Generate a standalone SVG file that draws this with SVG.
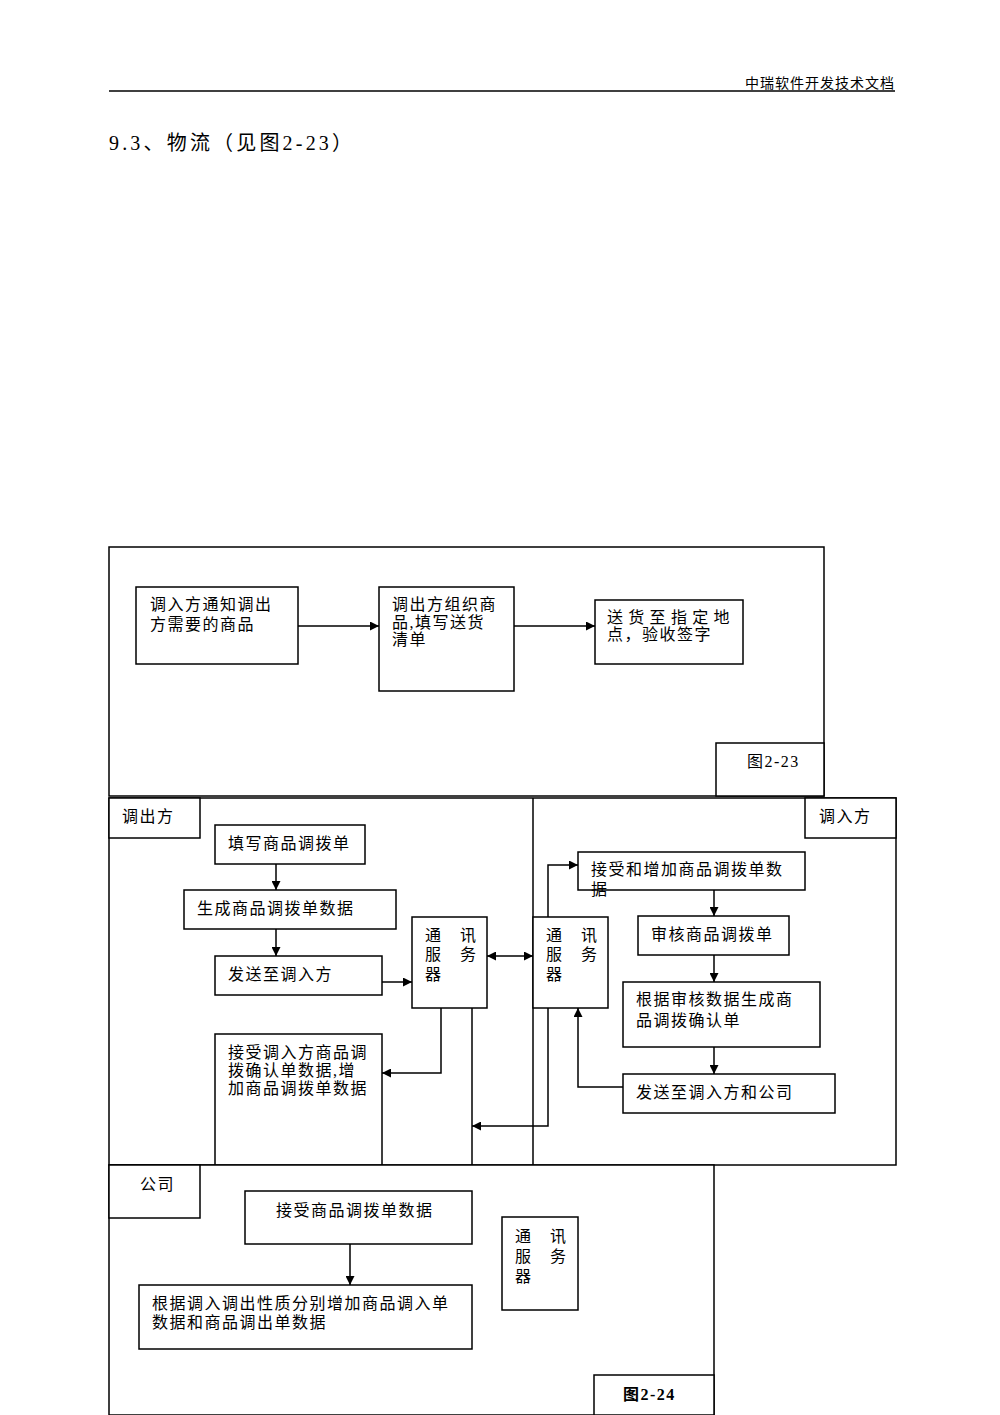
<svg xmlns="http://www.w3.org/2000/svg" width="1000" height="1415" viewBox="0 0 1000 1415">
<style>
.b{fill:#fff;stroke:#000;stroke-width:1.5}
.l{fill:none;stroke:#000;stroke-width:1.5}
text{font-family:"Liberation Serif","Noto Sans CJK SC",serif;font-size:16px;fill:#000;letter-spacing:1.5px}
</style>
<defs><marker id="a" viewBox="0 0 10 10" refX="10" refY="5" markerWidth="9" markerHeight="9" markerUnits="userSpaceOnUse" orient="auto-start-reverse"><path d="M0,0L10,5L0,10z"/></marker></defs>
<rect width="1000" height="1415" fill="#fff"/>
<text x="895" y="88" text-anchor="end" style="font-size:14px;letter-spacing:1px">中瑞软件开发技术文档</text>
<line x1="109" y1="91" x2="895" y2="91" stroke="#000" stroke-width="1.5"/>
<text x="109" y="150" style="font-size:20px;letter-spacing:0" textLength="243">9.3、物流（见图2-23）</text>
<g id="fig23"><rect class="b" x="109" y="547" width="715" height="249"/></g>
<g id="n1"><rect class="b" x="136" y="587" width="162" height="77"/><text x="150" y="610">调入方通知调出</text><text x="150" y="630">方需要的商品</text></g>
<g id="n2"><rect class="b" x="379" y="587" width="135" height="104"/><text x="392" y="610">调出方组织商</text><text x="392" y="628">品,填写送货</text><text x="392" y="645">清单</text></g>
<g id="n3"><rect class="b" x="595" y="600" width="148" height="64"/><text x="607" y="623" textLength="124">送货至指定地</text><text x="607" y="640">点，验收签字</text></g>
<g id="cap23"><rect class="b" x="716" y="743" width="108" height="53"/><text x="747" y="767">图2-23</text></g>
<g id="fig24"><rect class="b" x="109" y="798" width="787" height="367"/><line class="l" x1="533" y1="798" x2="533" y2="1165"/><line class="l" x1="472" y1="1008" x2="472" y2="1165"/></g>
<g id="out"><rect class="b" x="109" y="798" width="91" height="40"/><text x="122" y="822">调出方</text></g>
<g id="in"><rect class="b" x="805" y="798" width="91" height="40"/><text x="819" y="822">调入方</text></g>
<g id="l1"><rect class="b" x="215" y="825" width="150" height="39"/><text x="228" y="849">填写商品调拨单</text></g>
<g id="l2"><rect class="b" x="184" y="890" width="212" height="39"/><text x="197" y="914">生成商品调拨单数据</text></g>
<g id="l3"><rect class="b" x="215" y="956" width="167" height="39"/><text x="228" y="980">发送至调入方</text></g>
<g id="l4"><rect class="b" x="215" y="1034" width="167" height="131"/><text x="228" y="1058">接受调入方商品调</text><text x="228" y="1076">拨确认单数据,增</text><text x="228" y="1094">加商品调拨单数据</text></g>
<g id="s1"><rect class="b" x="412" y="917" width="75" height="91"/><text x="425" y="941">通</text><text x="460" y="941">讯</text><text x="425" y="960">服</text><text x="460" y="960">务</text><text x="425" y="980">器</text></g>
<g id="s2"><rect class="b" x="533" y="917" width="75" height="91"/><text x="546" y="941">通</text><text x="581" y="941">讯</text><text x="546" y="960">服</text><text x="581" y="960">务</text><text x="546" y="980">器</text></g>
<g id="r1"><rect class="b" x="578" y="852" width="227" height="38"/><text x="591" y="875">接受和增加商品调拨单数</text><text x="591" y="895">据</text></g>
<g id="r2"><rect class="b" x="638" y="916" width="151" height="39"/><text x="651" y="940">审核商品调拨单</text></g>
<g id="r3"><rect class="b" x="623" y="982" width="197" height="65"/><text x="636" y="1005">根据审核数据生成商</text><text x="636" y="1026">品调拨确认单</text></g>
<g id="r4"><rect class="b" x="623" y="1074" width="212" height="39"/><text x="636" y="1098">发送至调入方和公司</text></g>
<g id="comp"><rect class="b" x="109" y="1165" width="605" height="250"/></g>
<g id="compl"><rect class="b" x="109" y="1165" width="91" height="53"/><text x="140" y="1190">公司</text></g>
<g id="c1"><rect class="b" x="245" y="1191" width="227" height="53"/><text x="276" y="1216">接受商品调拨单数据</text></g>
<g id="c2"><rect class="b" x="139" y="1285" width="333" height="64"/><text x="152" y="1309">根据调入调出性质分别增加商品调入单</text><text x="152" y="1328">数据和商品调出单数据</text></g>
<g id="s3"><rect class="b" x="502" y="1217" width="76" height="93"/><text x="515" y="1242">通</text><text x="550" y="1242">讯</text><text x="515" y="1262">服</text><text x="550" y="1262">务</text><text x="515" y="1282">器</text></g>
<g id="cap24"><rect class="b" x="594" y="1375" width="120" height="40"/><text x="623" y="1400" font-weight="bold">图2-24</text></g>
<g id="connectors" class="l">
<path class="l" d="M298,626H379" marker-end="url(#a)"/>
<path class="l" d="M514,626H595" marker-end="url(#a)"/>
<path class="l" d="M276,864V890" marker-end="url(#a)"/>
<path class="l" d="M276,929V956" marker-end="url(#a)"/>
<path class="l" d="M382,982H412" marker-end="url(#a)"/>
<path class="l" d="M487,956H533" marker-start="url(#a)" marker-end="url(#a)"/>
<path class="l" d="M441,1008V1073H382" marker-end="url(#a)"/>
<path class="l" d="M548,917V865H578" marker-end="url(#a)"/>
<path class="l" d="M548,1008V1126H472" marker-end="url(#a)"/>
<path class="l" d="M714,890V916" marker-end="url(#a)"/>
<path class="l" d="M714,955V982" marker-end="url(#a)"/>
<path class="l" d="M714,1047V1074" marker-end="url(#a)"/>
<path class="l" d="M623,1087H578V1008" marker-end="url(#a)"/>
<path class="l" d="M350,1244V1285" marker-end="url(#a)"/>
</g>
</svg>
